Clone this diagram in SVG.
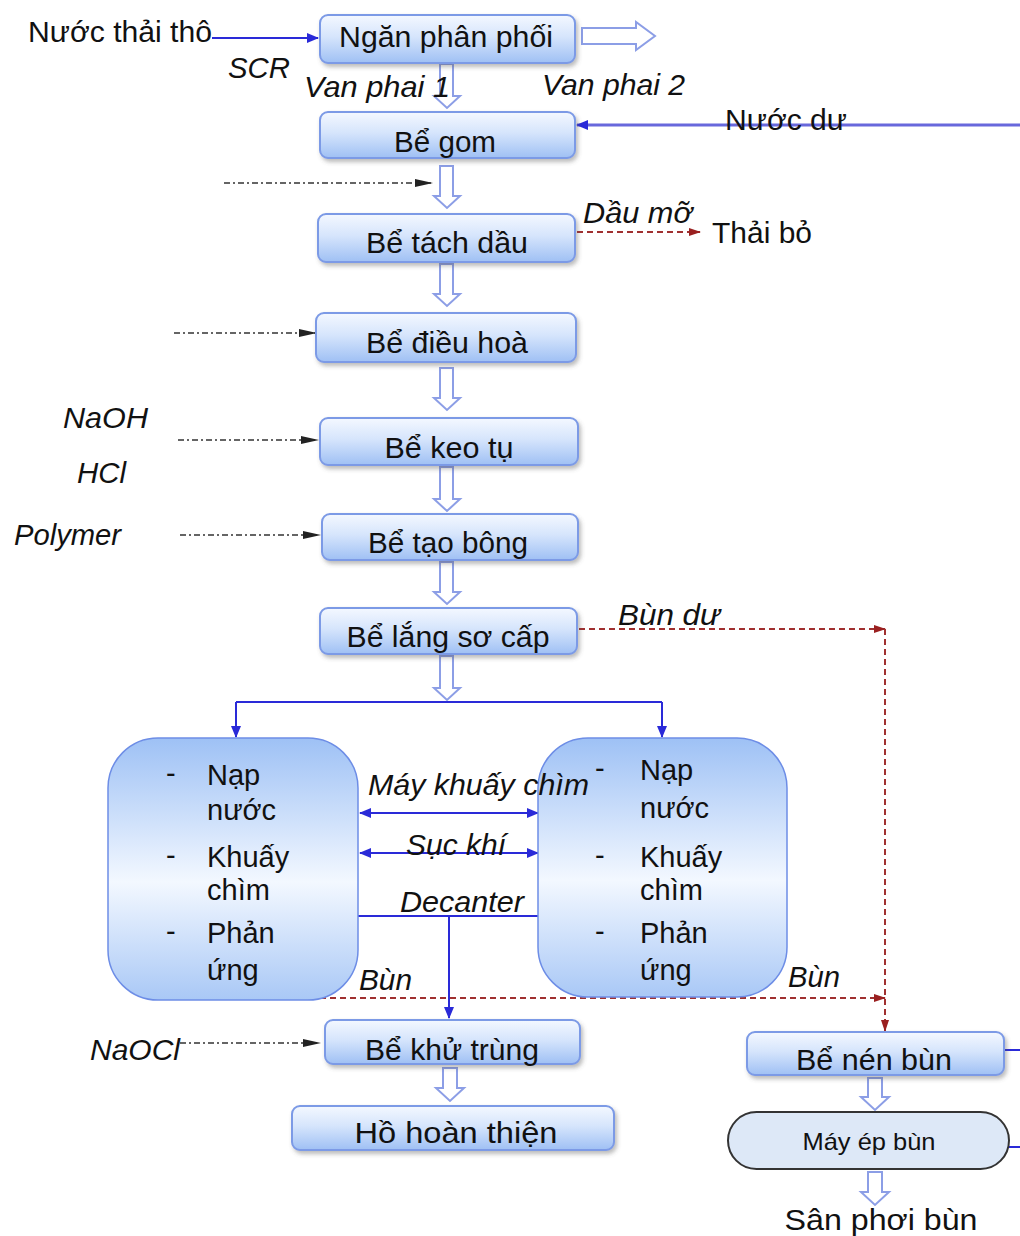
<svg xmlns="http://www.w3.org/2000/svg" width="1020" height="1236" viewBox="0 0 1020 1236">
<defs>
<linearGradient id="boxGrad" x1="0" y1="0" x2="0" y2="1">
<stop offset="0" stop-color="#f4f8ff"/>
<stop offset="0.45" stop-color="#d6e5fc"/>
<stop offset="1" stop-color="#9fc0f4"/>
</linearGradient>
<linearGradient id="sbrGrad" x1="0" y1="0" x2="0" y2="1">
<stop offset="0" stop-color="#9ec1f5"/>
<stop offset="0.55" stop-color="#f3f8ff"/>
<stop offset="1" stop-color="#a9c8f6"/>
</linearGradient>
<filter id="shadow" x="-10%" y="-20%" width="125%" height="160%">
<feDropShadow dx="2" dy="3" stdDeviation="2" flood-color="#555" flood-opacity="0.4"/>
</filter>
<marker id="blueArrow" markerUnits="userSpaceOnUse" markerWidth="12" markerHeight="10" refX="11" refY="5" orient="auto-start-reverse">
<path d="M0,0 L12,5 L0,10 z" fill="#2a2ad8"/>
</marker>
<marker id="blackArrow" markerUnits="userSpaceOnUse" markerWidth="18" markerHeight="8" refX="17" refY="4" orient="auto">
<path d="M0,0 L18,4 L0,8 z" fill="#222"/>
</marker>
<marker id="redArrow" markerUnits="userSpaceOnUse" markerWidth="12" markerHeight="8" refX="11" refY="4" orient="auto">
<path d="M0,0 L12,4 L0,8 z" fill="#9a2020"/>
</marker>
</defs>
<style>
text{font-family:"Liberation Sans",Arial,sans-serif;fill:#111;}
.lbl{font-size:30px;text-anchor:middle;}
.it{font-size:30px;font-style:italic;}
.nt{font-size:30px;}
.sbr{font-size:29px;}
.box{fill:url(#boxGrad);stroke:#7c9ae6;stroke-width:2;filter:url(#shadow);}
.sbrbox{fill:url(#sbrGrad);stroke:#6d8de6;stroke-width:1.5;}
.hollow{fill:#ffffff;stroke:#8c9ee6;stroke-width:2;}
.blue{stroke:#2a2ad8;stroke-width:2;fill:none;}
.blueL{stroke:#6868dc;stroke-width:3;fill:none;}
.dd{stroke:#333;stroke-width:1.5;fill:none;stroke-dasharray:6 3 2 3;}
.red{stroke:#a03030;stroke-width:2;fill:none;stroke-dasharray:6 4;}
</style>
<rect width="1020" height="1236" fill="#ffffff"/>

<g id="connectors">
<path class="blue" d="M212,38 H318" marker-end="url(#blueArrow)"/>
<path class="blueL" d="M1020,125 H577" marker-end="url(#blueArrow)"/>
<path class="dd" d="M224,183 H432" marker-end="url(#blackArrow)"/>
<path class="red" d="M577,232 H700" marker-end="url(#redArrow)"/>
<path class="dd" d="M174,333 H316" marker-end="url(#blackArrow)"/>
<path class="dd" d="M178,440 H318" marker-end="url(#blackArrow)"/>
<path class="dd" d="M180,535 H320" marker-end="url(#blackArrow)"/>
<path class="red" d="M579,629 H885" marker-end="url(#redArrow)"/>
<path class="red" d="M885,629 V1031" marker-end="url(#redArrow)"/>
<path class="blue" d="M236,702 H662"/>
<path class="blue" d="M236,702 V737" marker-end="url(#blueArrow)"/>
<path class="blue" d="M662,702 V737" marker-end="url(#blueArrow)"/>
<path class="blue" d="M360,813 H538" marker-start="url(#blueArrow)" marker-end="url(#blueArrow)"/>
<path class="blue" d="M360,853 H538" marker-start="url(#blueArrow)" marker-end="url(#blueArrow)"/>
<path class="blue" d="M358,916 H538"/>
<path class="blue" d="M449,916 V1018" marker-end="url(#blueArrow)"/>
<path class="red" d="M236,982 V998 H885" marker-end="url(#redArrow)"/>
<path class="dd" d="M180,1043 H320" marker-end="url(#blackArrow)"/>
<path class="blue" d="M1004,1050 H1020"/>
<path class="blue" d="M1009,1147 H1020"/>
<path class="hollow" d="M582,28 H636 V22 L655,36 L636,50 V44 H582 Z"/>
<path class="hollow" d="M440,64 H453 V96 H460 L447,108 L434,96 H440 Z"/>
<path class="hollow" d="M440,166 H453 V196 H460 L447,208 L434,196 H440 Z"/>
<path class="hollow" d="M440,264 H453 V294 H460 L447,306 L434,294 H440 Z"/>
<path class="hollow" d="M440,368 H453 V398 H460 L447,410 L434,398 H440 Z"/>
<path class="hollow" d="M440,467 H453 V499 H460 L447,511 L434,499 H440 Z"/>
<path class="hollow" d="M440,562 H453 V592 H460 L447,604 L434,592 H440 Z"/>
<path class="hollow" d="M440,656 H453 V688 H460 L447,700 L434,688 H440 Z"/>
<path class="hollow" d="M443,1068 H457 V1088 H464 L450,1101 L436,1088 H443 Z"/>
<path class="hollow" d="M868,1078 H882 V1097 H889 L875,1110 L861,1097 H868 Z"/>
<path class="hollow" d="M868,1172 H882 V1192 H889 L875,1205 L861,1192 H868 Z"/>
</g>

<g id="ngan-phan-phoi"><rect class="box" x="320" y="15" width="255" height="48" rx="8"/><text class="lbl" x="446" y="47" textLength="214" lengthAdjust="spacingAndGlyphs">Ngăn phân phối</text></g>
<g id="be-gom"><rect class="box" x="320" y="112" width="255" height="46" rx="8"/><text class="lbl" x="445" y="152" textLength="102" lengthAdjust="spacingAndGlyphs">Bể gom</text></g>
<g id="be-tach-dau"><rect class="box" x="318" y="214" width="257" height="48" rx="8"/><text class="lbl" x="447" y="253" textLength="162" lengthAdjust="spacingAndGlyphs">Bể tách dầu</text></g>
<g id="be-dieu-hoa"><rect class="box" x="316" y="313" width="260" height="49" rx="8"/><text class="lbl" x="447" y="353" textLength="162" lengthAdjust="spacingAndGlyphs">Bể điều hoà</text></g>
<g id="be-keo-tu"><rect class="box" x="320" y="418" width="258" height="47" rx="8"/><text class="lbl" x="449" y="458" textLength="129" lengthAdjust="spacingAndGlyphs">Bể keo tụ</text></g>
<g id="be-tao-bong"><rect class="box" x="322" y="514" width="256" height="46" rx="8"/><text class="lbl" x="448" y="553" textLength="160" lengthAdjust="spacingAndGlyphs">Bể tạo bông</text></g>
<g id="be-lang-so-cap"><rect class="box" x="320" y="608" width="257" height="46" rx="8"/><text class="lbl" x="448" y="647" textLength="203" lengthAdjust="spacingAndGlyphs">Bể lắng sơ cấp</text></g>

<g id="sbr-1"><rect class="sbrbox" x="108" y="738" width="250" height="262" rx="50"/>
<text class="sbr" x="166" y="783">-</text><text class="sbr" x="207" y="785">Nạp</text><text class="sbr" x="207" y="820">nước</text>
<text class="sbr" x="166" y="865">-</text><text class="sbr" x="207" y="867">Khuấy</text><text class="sbr" x="207" y="900">chìm</text>
<text class="sbr" x="166" y="941">-</text><text class="sbr" x="207" y="943">Phản</text><text class="sbr" x="207" y="980">ứng</text></g>
<g id="sbr-2"><rect class="sbrbox" x="538" y="738" width="249" height="259" rx="50"/>
<text class="sbr" x="595" y="778">-</text><text class="sbr" x="640" y="780">Nạp</text><text class="sbr" x="640" y="818">nước</text>
<text class="sbr" x="595" y="865">-</text><text class="sbr" x="640" y="867">Khuấy</text><text class="sbr" x="640" y="900">chìm</text>
<text class="sbr" x="595" y="941">-</text><text class="sbr" x="640" y="943">Phản</text><text class="sbr" x="640" y="980">ứng</text></g>

<g id="be-khu-trung"><rect class="box" x="325" y="1020" width="255" height="44" rx="8"/><text class="lbl" x="452" y="1060" textLength="174" lengthAdjust="spacingAndGlyphs">Bể khử trùng</text></g>
<g id="ho-hoan-thien"><rect class="box" x="292" y="1106" width="322" height="44" rx="8"/><text class="lbl" x="456" y="1143" textLength="203" lengthAdjust="spacingAndGlyphs">Hồ hoàn thiện</text></g>
<g id="be-nen-bun"><rect class="box" x="747" y="1032" width="257" height="43" rx="8"/><text class="lbl" x="874" y="1070" textLength="156" lengthAdjust="spacingAndGlyphs">Bể nén bùn</text></g>
<g id="may-ep-bun"><rect x="728" y="1112" width="281" height="57" rx="28.5" fill="#dde8f7" stroke="#333" stroke-width="2"/><text x="869" y="1150" style="font-size:24px;text-anchor:middle" textLength="133" lengthAdjust="spacingAndGlyphs">Máy ép bùn</text></g>
<g id="san-phoi-bun"><text class="lbl" x="881" y="1230" textLength="193" lengthAdjust="spacingAndGlyphs">Sân phơi bùn</text></g>

<g id="labels">
<text class="nt" x="28" y="42" textLength="184" lengthAdjust="spacingAndGlyphs">Nước thải thô</text>
<text class="it" x="228" y="78" textLength="62" lengthAdjust="spacingAndGlyphs">SCR</text>
<text class="it" x="304" y="97" textLength="146" lengthAdjust="spacingAndGlyphs">Van phai 1</text>
<text class="it" x="542" y="95" textLength="143" lengthAdjust="spacingAndGlyphs">Van phai 2</text>
<text class="nt" x="725" y="130" textLength="122" lengthAdjust="spacingAndGlyphs">Nước dư</text>
<text class="it" x="583" y="223" textLength="109" lengthAdjust="spacingAndGlyphs">Dầu mỡ</text>
<text class="nt" x="712" y="243" textLength="100" lengthAdjust="spacingAndGlyphs">Thải bỏ</text>
<text class="it" x="63" y="428" textLength="85" lengthAdjust="spacingAndGlyphs">NaOH</text>
<text class="it" x="77" y="483" textLength="49" lengthAdjust="spacingAndGlyphs">HCl</text>
<text class="it" x="14" y="545" textLength="107" lengthAdjust="spacingAndGlyphs">Polymer</text>
<text class="it" x="618" y="625" textLength="102" lengthAdjust="spacingAndGlyphs">Bùn dư</text>
<text class="it" x="368" y="795" textLength="221" lengthAdjust="spacingAndGlyphs">Máy khuấy chìm</text>
<text class="it" x="406" y="855" textLength="100" lengthAdjust="spacingAndGlyphs">Sục khí</text>
<text class="it" x="400" y="912" textLength="124" lengthAdjust="spacingAndGlyphs">Decanter</text>
<text class="it" x="359" y="990" textLength="53" lengthAdjust="spacingAndGlyphs">Bùn</text>
<text class="it" x="788" y="987" textLength="52" lengthAdjust="spacingAndGlyphs">Bùn</text>
<text class="it" x="90" y="1060" textLength="90" lengthAdjust="spacingAndGlyphs">NaOCl</text>
</g>
</svg>
